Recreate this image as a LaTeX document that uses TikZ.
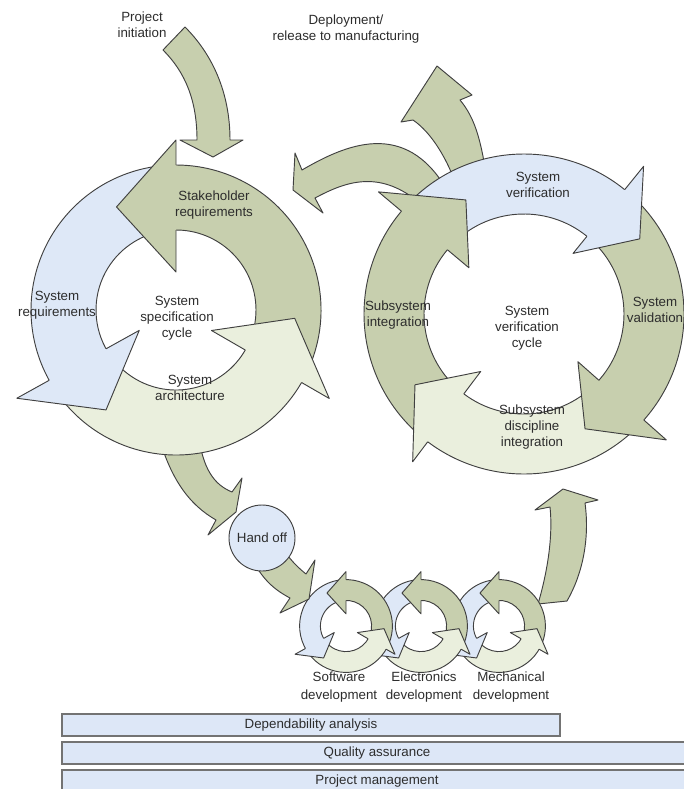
\documentclass[tikz,border=0pt]{standalone}
\usepackage{fontspec}
\setmainfont{Liberation Sans}
\definecolor{dg}{RGB}{199,207,174}
\definecolor{lg}{RGB}{234,239,221}
\definecolor{bl}{RGB}{222,232,247}
\definecolor{ol}{RGB}{64,64,64}
\definecolor{txt}{RGB}{45,45,45}
\definecolor{barfill}{RGB}{221,231,247}
\definecolor{barline}{RGB}{115,115,115}
% ring arrow body: colour, tail angle, base angle, tip angle, inner r, outer r
\newcommand\ringbody[6]{%
  \pgfmathsetmacro\rbE{#3+0.12*(#4-#3)}%
  \filldraw[fill=#1,shp] (#2:#5) -- (#2:#6) arc[start angle=#2, end angle=\rbE, radius=#6]
     -- (\rbE:#5) arc[start angle=\rbE, end angle=#2, radius=#5] -- cycle;
}
% ring arrow head: colour, base angle, tip angle, inner r, outer r, inner wing, outer wing, tip r
\newcommand\ringhead[8]{%
  \fill[#1] (#2:#6) -- (#3:#8) -- (#2:#7) -- cycle;
  \draw[shp] (#2:#4) -- (#2:#6) -- (#3:#8) -- (#2:#7) -- (#2:#5);
}
\newcommand\speccycle{%
  \ringbody{dg}{-22}{90}{120}{80}{145}
  \ringbody{bl}{98}{209}{235}{80}{145}
  \ringbody{lg}{217}{330}{356}{80}{145}
  \ringhead{dg}{90}{120}{80}{145}{38}{170}{119}
  \ringhead{bl}{209}{235}{80}{145}{42}{182}{122}
  \ringhead{lg}{330}{356}{80}{145}{41}{177}{119}
}
\begin{document}
\begin{tikzpicture}[x=0.75pt,y=-0.75pt,
  shp/.style={draw=ol,line width=0.7pt,line join=round},
  lbl/.style={align=center,inner sep=0pt,text=txt,font=\fontsize{10}{12}\selectfont},
  lblb/.style={lbl,font=\fontsize{10}{13.5}\selectfont},
  bar/.style={fill=barfill,draw=barline,line width=1.2pt}]
\useasboundingbox (0,0) rectangle (684,789);
\clip (0,0) rectangle (684,789);
\fill[white] (0,0) rectangle (684,789);

% arrows leaving the verification cycle (behind it)
\filldraw[fill=dg,shp] (458,190) .. controls (448,160) and (432,133) .. (413,120) -- (401,122) -- (437,66) -- (472,95) -- (460,100) .. controls (475,118) and (481,140) .. (487,180) -- cycle;
\filldraw[fill=dg,shp] (422,205) .. controls (380,168) and (345,182) .. (315,198) -- (323,213) -- (293,190) -- (295,153) -- (302,170) .. controls (345,145) and (405,118) .. (447,190) -- cycle;

% project initiation arrow
\filldraw[fill=dg,shp] (163,50) -- (185,27) .. controls (212,54) and (230,92) .. (230,140) -- (243,140) -- (213,157) -- (180,140) -- (197,140) .. controls (197,100) and (185,72) .. (163,50) -- cycle;

% arrow to hand off
\filldraw[fill=dg,shp] (157,430) .. controls (170,480) and (190,505) .. (216,520) -- (208,535) -- (236,512) -- (242,478) -- (232,492) .. controls (215,485) and (202,470) .. (198,430) -- cycle;

% system specification cycle
\begin{scope}[shift={(176,310)},yscale=-1]
  \speccycle
\end{scope}

% system verification cycle
\begin{scope}[shift={(524,314)},yscale=-1]
  \ringbody{dg}{227}{140}{117}{100}{160}
  \ringbody{bl}{134}{51}{33}{100}{160}
  \ringbody{dg}{45}{-41.5}{-62}{100}{160}
  \ringbody{lg}{-48}{-127}{-147}{100}{160}
  \ringhead{dg}{140}{117}{100}{160}{72}{190}{128}
  \ringhead{bl}{51}{33}{100}{160}{78}{190}{138}
  \ringhead{dg}{-41.5}{-62}{100}{160}{72}{190}{130}
  \ringhead{lg}{-127}{-147}{100}{160}{72}{185}{130}
\end{scope}

% arrow from mechanical development up to the verification cycle
\filldraw[fill=dg,shp] (538,604) .. controls (548,570) and (553,535) .. (550,507) -- (535,510) -- (563,489) -- (598,500) -- (585,503) .. controls (590,540) and (582,575) .. (567,601) -- cycle;

% discipline development cycles
\begin{scope}[shift={(499,626)},scale=0.32,yscale=-1]
  \speccycle
\end{scope}
\begin{scope}[shift={(421,626)},scale=0.32,yscale=-1]
  \speccycle
\end{scope}
\begin{scope}[shift={(346,626)},scale=0.32,yscale=-1]
  \speccycle
\end{scope}

% hand off to software arrow and hand off circle
\filldraw[fill=dg,shp] (250,555) .. controls (262,580) and (275,590) .. (290,598) -- (280,613) -- (309,599) -- (315,560) -- (306,574) .. controls (296,566) and (285,555) .. (275,535) -- cycle;
\node (handoff) [circle,shp,fill=bl,minimum size=49.5pt,lbl] at (262,538) {Hand off};

% labels
\node (pinit) [lbl] at (142,25) {Project\\initiation};
\node (deploy) [lbl] at (346,29) {Deployment/\\release to manufacturing};
\node (stake) [lbl] at (214,205) {Stakeholder\\requirements};
\node (sysreq) [lbl] at (57,305) {System\\requirements};
\node (speccyc) [lbl] at (177,318) {System\\specification\\cycle};
\node (arch) [lbl] at (190,388) {System\\architecture};
\node (sysver) [lbl] at (538,185) {System\\verification};
\node (sysval) [lbl] at (655,310) {System\\validation};
\node (subint) [lbl] at (398,315) {Subsystem\\integration};
\node (vercyc) [lbl] at (527,328) {System\\verification\\cycle};
\node (subdisc) [lbl] at (532,427) {Subsystem\\discipline\\integration};
\node (sw) [lblb] at (339,687) {Software\\development};
\node (el) [lblb] at (424,687) {Electronics\\development};
\node (me) [lblb] at (511,687) {Mechanical\\development};

% bars
\draw[bar] (62,714) rectangle (560,736);
\node (dep) [lbl] at (311,725) {Dependability analysis};
\draw[bar] (62,742) rectangle (692,764);
\node (qa) [lbl] at (377,753) {Quality assurance};
\draw[bar] (62,770) rectangle (692,794);
\node (pm) [lbl] at (377,781) {Project management};
\end{tikzpicture}
\end{document}
